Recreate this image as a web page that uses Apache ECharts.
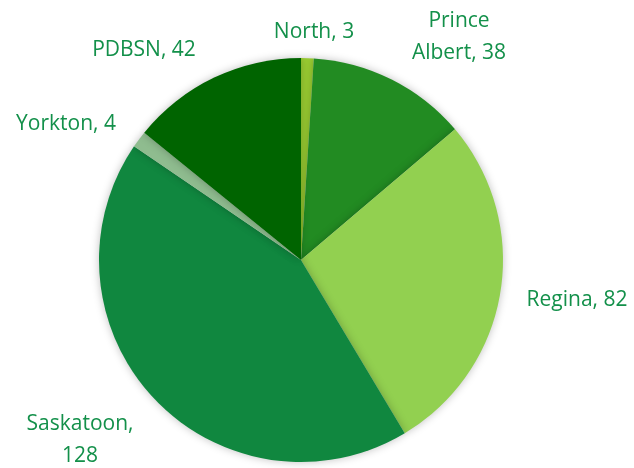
<!DOCTYPE html>
<html>
<head>
<meta charset="utf-8">
<script src="https://cdn.jsdelivr.net/npm/echarts@6/dist/echarts.min.js"></script>
<style>
  html, body { margin: 0; padding: 0; background: #fff; }
  #chart { width: 634px; height: 468px; }
</style>
</head>
<body>
<div id="chart"></div>
<script>
// regions, clockwise from 12 o'clock
var regions = ['North', 'Prince\nAlbert', 'Regina', 'Saskatoon,\n', 'Yorkton', 'PDBSN'];
var counts = [3, 38, 82, 128, 4, 42];
var colors = ['#9ACD32', '#228B22', '#92D050', '#10873F', '#8FBC8F', '#006400'];

// where each label sits (Excel best-fit look)
var labelSpots = [
  [314, 32], [459, 37], [577, 300], [80, 440], [66, 124], [144, 50]
];

var chart = echarts.init(document.getElementById('chart'));

chart.setOption({
  animation: false,
  series: [{
    type: 'pie',
    center: [301, 260],
    radius: 202,
    startAngle: 90,
    clockwise: true,
    data: regions.map(function (r, i) {
      return { name: r, value: counts[i], itemStyle: { color: colors[i] } };
    }),
    itemStyle: {
      shadowBlur: 8,
      shadowColor: 'rgba(0,0,0,0.25)'
    },
    label: {
      show: true,
      position: 'outside',
      overflow: 'none',
      formatter: function (p) {
        var n = p.name;
        if (n.slice(-1) === '\n') return n + p.value;
        return n + ', ' + p.value;
      },
      color: '#13904A',
      fontFamily: 'Open Sans',
      fontSize: 21,
      lineHeight: 32,
      align: 'center'
    },
    labelLine: { show: false },
    labelLayout: function (params) {
      var s = labelSpots[params.dataIndex];
      return { x: s[0], y: s[1], align: 'center', verticalAlign: 'middle' };
    }
  }]
});
</script>
</body>
</html>
